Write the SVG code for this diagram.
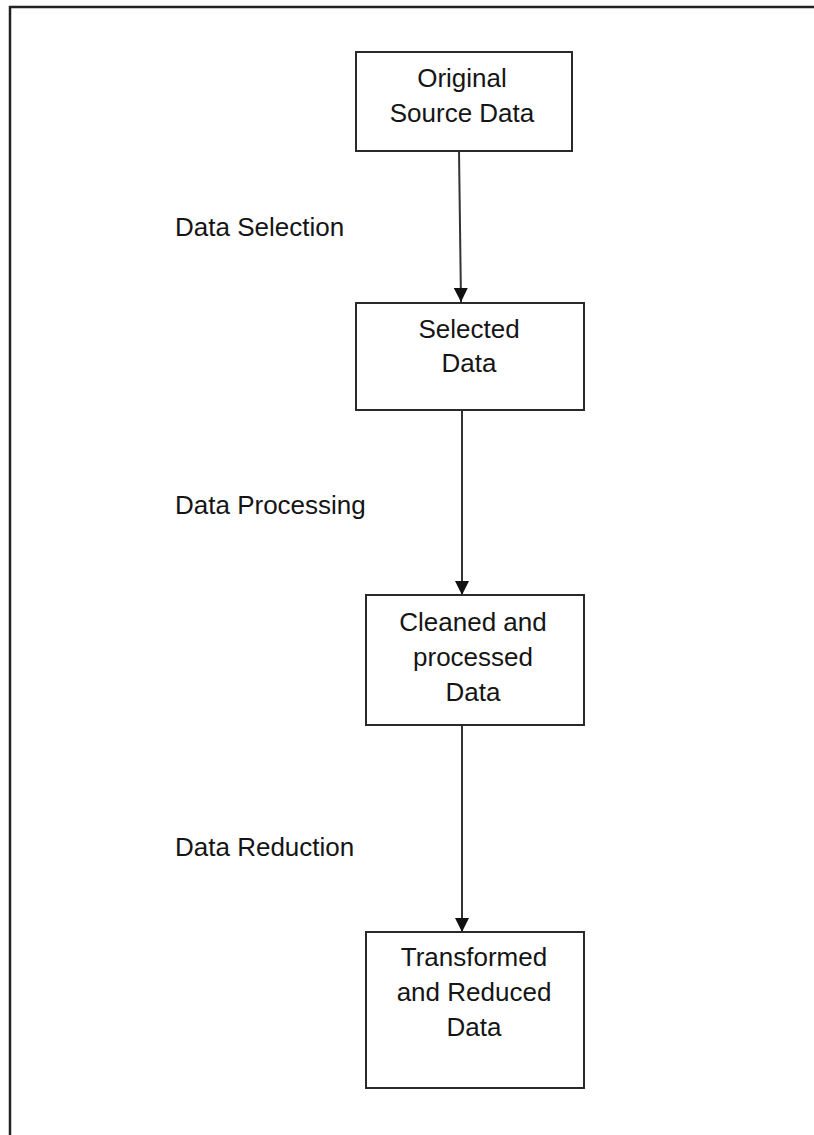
<svg xmlns="http://www.w3.org/2000/svg" width="814" height="1135" viewBox="0 0 814 1135">
<style>
.bg{fill:#fff}
.frame{fill:none;stroke:#222;stroke-width:2.5}
.box{fill:#fff;stroke:#2a2a2a;stroke-width:2}
.t{font-family:"Liberation Sans",Arial,sans-serif;font-size:26px;fill:#151515}
.c{text-anchor:middle}
.edge{fill:none;stroke:#333;stroke-width:2}
</style>
<defs>
<marker id="ah" viewBox="0 0 14 14" refX="14" refY="7" markerWidth="14" markerHeight="14" markerUnits="userSpaceOnUse" orient="auto">
<path d="M0,0 L14,7 L0,14 Z" fill="#111"/>
</marker>
</defs>
<rect class="bg" x="0" y="0" width="814" height="1135"/>
<path class="frame" d="M10,1135 V7 H814"/>
<g id="connectors">
<line class="edge" x1="459" y1="151" x2="461" y2="302" marker-end="url(#ah)"/>
<line class="edge" x1="462" y1="411" x2="462" y2="595" marker-end="url(#ah)"/>
<line class="edge" x1="462" y1="725" x2="462" y2="932" marker-end="url(#ah)"/>
<text class="t" x="175" y="236">Data Selection</text>
<text class="t" x="175" y="514">Data Processing</text>
<text class="t" x="175" y="856">Data Reduction</text>
</g>
<g id="n1">
<rect class="box" x="356" y="52" width="216" height="99"/>
<text class="t c" x="462" y="87">Original</text>
<text class="t c" x="462" y="122">Source Data</text>
</g>
<g id="n2">
<rect class="box" x="356" y="303" width="228" height="107"/>
<text class="t c" x="469" y="338">Selected</text>
<text class="t c" x="469" y="372">Data</text>
</g>
<g id="n3">
<rect class="box" x="366" y="595" width="218" height="130"/>
<text class="t c" x="473" y="631">Cleaned and</text>
<text class="t c" x="473" y="666">processed</text>
<text class="t c" x="473" y="701">Data</text>
</g>
<g id="n4">
<rect class="box" x="366" y="932" width="218" height="156"/>
<text class="t c" x="474" y="966">Transformed</text>
<text class="t c" x="474" y="1001">and Reduced</text>
<text class="t c" x="474" y="1036">Data</text>
</g>
</svg>
